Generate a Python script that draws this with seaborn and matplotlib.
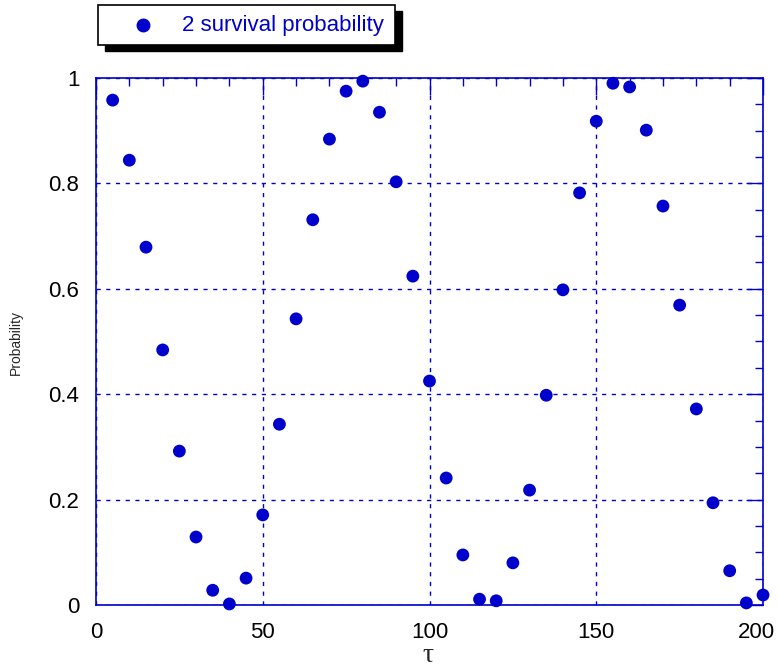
import numpy as np
import pandas as pd
import matplotlib
matplotlib.use("Agg")
import matplotlib.pyplot as plt
import matplotlib.transforms as mtransforms
import seaborn as sns
from matplotlib.ticker import MultipleLocator

tau = [5, 10, 15, 20, 25, 30, 35, 40, 45, 50,
       55, 60, 65, 70, 75, 80, 85, 90, 95, 100,
       105, 110, 115, 120, 125, 130, 135, 140, 145, 150,
       155, 160, 165, 170, 175, 180, 185, 190, 195, 200]
prob = [0.958, 0.844, 0.679, 0.484, 0.292, 0.129, 0.028, 0.002, 0.051, 0.171,
        0.343, 0.543, 0.731, 0.884, 0.975, 0.994, 0.935, 0.803, 0.624, 0.425,
        0.241, 0.095, 0.011, 0.008, 0.080, 0.218, 0.398, 0.598, 0.782, 0.918,
        0.990, 0.983, 0.901, 0.757, 0.569, 0.372, 0.194, 0.065, 0.004, 0.019]
series_label = "2 survival probability"

df = pd.DataFrame({"tau": tau, "prob": prob})

sns.set_style("white")
plt.rcParams["font.family"] = ["Liberation Sans", "DejaVu Sans"]

blue = "#0000cc"
fig = plt.figure(figsize=(7.79, 6.70), dpi=100)
ax = fig.add_axes([0.1232, 0.097, 0.8563, 0.7866])

sns.scatterplot(data=df, x="tau", y="prob", ax=ax, color=blue, s=85,
                edgecolor="none", legend=False, zorder=3, clip_on=False)

ax.set_xlim(0, 200)
ax.set_ylim(0, 1)
ax.xaxis.set_minor_locator(MultipleLocator(10))
ax.yaxis.set_minor_locator(MultipleLocator(0.05))
ax.set_yticks([0, 0.2, 0.4, 0.6, 0.8, 1])
ax.set_yticklabels(["0", "0.2", "0.4", "0.6", "0.8", "1"])
ax.set_xticks([0, 50, 100, 150, 200])
ax.set_xticklabels(["0", "50", "100", "150", "200"])

ax.tick_params(which="both", direction="in", color=blue, labelsize=16,
               top=True, right=True, labelcolor="black")
ax.tick_params(which="major", length=12, width=1, pad=12)
ax.tick_params(which="minor", length=6, width=1)

# keep the last x label inside the figure
last = ax.get_xticklabels()[-1]
last.set_transform(last.get_transform() +
                   mtransforms.ScaledTranslation(-5 / 72, 0, fig.dpi_scale_trans))

for sp in ax.spines.values():
    sp.set_color(blue)
    sp.set_linewidth(1.2)

ax.grid(True, which="major", color=blue, linestyle=(0, (3, 4)), linewidth=1)
ax.set_axisbelow(True)

ax.set_xlabel("")
ax.set_ylabel("")
fig.text(428 / 779, 1 - 655 / 670, "τ", fontsize=20, family="Liberation Serif",
         ha="center", va="center")
fig.text(16 / 779, 1 - 342 / 670, "Probability", rotation=90, fontsize=10,
         ha="center", va="center")

# legend box with shadow
leg_ax = fig.add_axes([98 / 779, 1 - 45 / 670, 297 / 779, 40 / 670])
leg_ax.set_xlim(0, 1)
leg_ax.set_ylim(0, 1)
leg_ax.axis("off")
shadow = plt.Rectangle((0.025, -0.15), 1.0, 1.0, transform=leg_ax.transAxes,
                       facecolor="black", edgecolor="black", clip_on=False)
box = plt.Rectangle((0, 0), 1.0, 1.0, transform=leg_ax.transAxes,
                    facecolor="white", edgecolor="black", linewidth=1.2, clip_on=False)
leg_ax.add_patch(shadow)
leg_ax.add_patch(box)
leg_ax.plot([0.152], [0.5], "o", color=blue, markersize=9, clip_on=False)
leg_ax.text(0.283, 0.5, series_label, color=blue, fontsize=16, va="center", ha="left")

fig.savefig("out.png", dpi=100)
